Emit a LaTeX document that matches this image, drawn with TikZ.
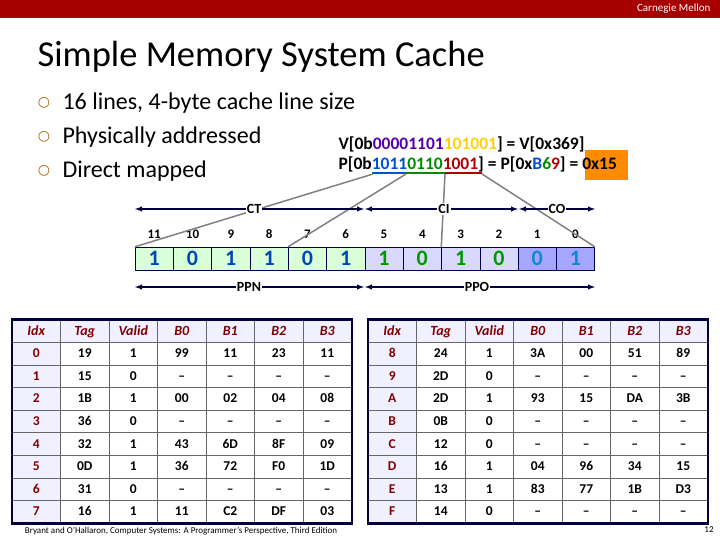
\documentclass[tikz,border=0pt]{standalone}
\usepackage{fontspec}
\setmainfont{Carlito}
\newfontfamily\dv{DejaVu Sans}
\begin{document}
\begin{tikzpicture}[x=1pt,y=-1pt,
 cell/.style={draw=black!60,line width=0.6pt,minimum width=48.5pt,minimum height=22.6pt,inner sep=0pt,text height=9pt,text depth=1pt,font=\fontsize{13.5}{13.5}\selectfont\bfseries},
 hd/.style={cell,fill=blue!6,text=red!50!black,font=\fontsize{14}{14}\selectfont\bfseries\itshape},
 ix/.style={cell,fill=blue!6,text=red!50!black},
 bit/.style={draw=blue!30!black,minimum width=38.3pt,minimum height=23pt,inner sep=0pt,text height=14pt,text depth=0pt,font=\fontsize{22}{22}\selectfont\bfseries},
 lab/.style={font=\fontsize{14}{14}\selectfont\bfseries,fill=white,inner sep=1pt},
 num/.style={font=\fontsize{13}{13}\selectfont\bfseries},
 arr/.style={-latex,line width=1.4pt,blue!25!black},
 gl/.style={line width=1.5pt,gray}]
\useasboundingbox (0,0) rectangle (720,540);
\fill[red!65!black] (0,0) rectangle (720,18);
\node[anchor=east,text=white,font=\fontsize{11}{11}\selectfont] (cmu) at (714,9) {Carnegie Mellon};
\node[anchor=west,font=\fontsize{36.5}{36.5}\selectfont] (title) at (34,57) {Simple Memory System Cache};
\foreach \y/\t [count=\i] in {103/16 lines{,} 4-byte cache line size,137/Physically addressed,171/Direct mapped}{
 \node[font=\fontsize{14}{14}\selectfont\dv,text=orange!70!black] (b\i) at (44,\y) {○};
 \node[anchor=west,font=\fontsize{24}{24}\selectfont] (bt\i) at (59,\y) {\t};}
\node[anchor=west,font=\fontsize{17.5}{17.5}\selectfont\bfseries] (va) at (335,144) {V[0b\textcolor{violet!70!blue}{00001101}\textcolor{yellow!70!orange}{101001}] = V[0x369]};
\fill[orange!90!yellow] (585,150) rectangle (628,180);
\node[anchor=west,font=\fontsize{17.5}{17.5}\selectfont\bfseries] (pa) at (335,164) {P[0b\textcolor{blue!60!cyan!80!black}{1011}\textcolor{green!55!black}{0110}\textcolor{red!70!black}{1001}] = P[0x\textcolor{blue!60!cyan!80!black}{B}\textcolor{green!55!black}{6}\textcolor{red!70!black}{9}] = 0x15};
\draw[line width=2pt,blue!60!cyan!80!black] (372,173) -- (406,173);
\draw[line width=2pt,green!55!black] (406,173) -- (445,173);
\draw[line width=2pt,red!70!black] (445,173) -- (482,173);
% bits
\foreach \v [count=\i from 0] in {1,0,1,1,0,1,1,0,1,0,0,1}{
 \pgfmathtruncatemacro\bn{11-\i}
 \ifnum\i<6 \def\fc{green!15}\def\tc{blue!60!cyan!70!black}\else\ifnum\i<10 \def\fc{blue!15}\def\tc{green!60!black}\else\def\fc{blue!35}\def\tc{cyan!70!blue}\fi\fi
 \node[bit,fill=\fc,text=\tc] (bit\bn) at (154.2+38.3*\i,258.5) {\v};
 \node[num] (n\bn) at (154.2+38.3*\i,234) {\bn};}
\coordinate (u0) at (373,174); \coordinate (u1) at (406,174); \coordinate (u2) at (445,174); \coordinate (u3) at (482,174);
\draw[gl] (u0) -- (bit11.north west);
\draw[gl] (u1) -- (bit7.north west);
\draw[gl] (u2) -- (bit3.north west);
\draw[gl] (u3) -- (bit0.north east);
% arrows
\coordinate (ct1) at (135,209); \coordinate (ct2) at (364,209);
\coordinate (ci1) at (365,209); \coordinate (ci2) at (518,209);
\coordinate (co1) at (519,209); \coordinate (co2) at (595,209);
\coordinate (pp1) at (135,287); \coordinate (pp2) at (364,287);
\coordinate (po1) at (365,287); \coordinate (po2) at (595,287);
\draw[arr] (254,209) -- (ct1); \draw[arr] (254,209) -- (ct2);
\draw[arr] (444,209) -- (ci1); \draw[arr] (444,209) -- (ci2);
\draw[arr] (557,209) -- (co1); \draw[arr] (557,209) -- (co2);
\draw[arr] (249,287) -- (pp1); \draw[arr] (249,287) -- (pp2);
\draw[arr] (477,287) -- (po1); \draw[arr] (477,287) -- (po2);
\node[lab] (lct) at (254,209) {CT};
\node[lab] (lci) at (444,209) {CI};
\node[lab] (lco) at (557,209) {CO};
\node[lab] (lpp) at (249,287) {PPN};
\node[lab] (lpo) at (477,287) {PPO};
% tables
\foreach \T/\xo/\rows in {A/12/{0/19/1/99/11/23/11,1/15/0/–/–/–/–,2/1B/1/00/02/04/08,3/36/0/–/–/–/–,4/32/1/43/6D/8F/09,5/0D/1/36/72/F0/1D,6/31/0/–/–/–/–,7/16/1/11/C2/DF/03},
  B/368/{8/24/1/3A/00/51/89,9/2D/0/–/–/–/–,A/2D/1/93/15/DA/3B,B/0B/0/–/–/–/–,C/12/0/–/–/–/–,D/16/1/04/96/34/15,E/13/1/83/77/1B/D3,F/14/0/–/–/–/–}}{
 \foreach \h [count=\c from 0] in {Idx,Tag,Valid,B0,B1,B2,B3}
   \node[hd] (t\T-0-\c) at (\xo+24.25+48.5*\c,331) {\h};
 \foreach \a/\b/\cc/\d/\e/\f/\g [count=\r] in \rows {
   \node[ix] (t\T-\r-0) at (\xo+24.25,331+22.6*\r) {\a};
   \foreach \v [count=\c] in {\b,\cc,\d,\e,\f,\g}
     \node[cell] (t\T-\r-\c) at (\xo+24.25+48.5*\c,331+22.6*\r) {\v};}
 \draw[line width=2.2pt,blue!25!black] (t\T-0-0.north west) rectangle (t\T-8-6.south east);}
\node[font=\fontsize{9}{9}\selectfont] (cite) at (181,531) {Bryant and O'Hallaron, Computer Systems: A Programmer's Perspective, Third Edition};
\node[font=\fontsize{9}{9}\selectfont] (pg) at (709,530) {12};
\end{tikzpicture}
\end{document}
